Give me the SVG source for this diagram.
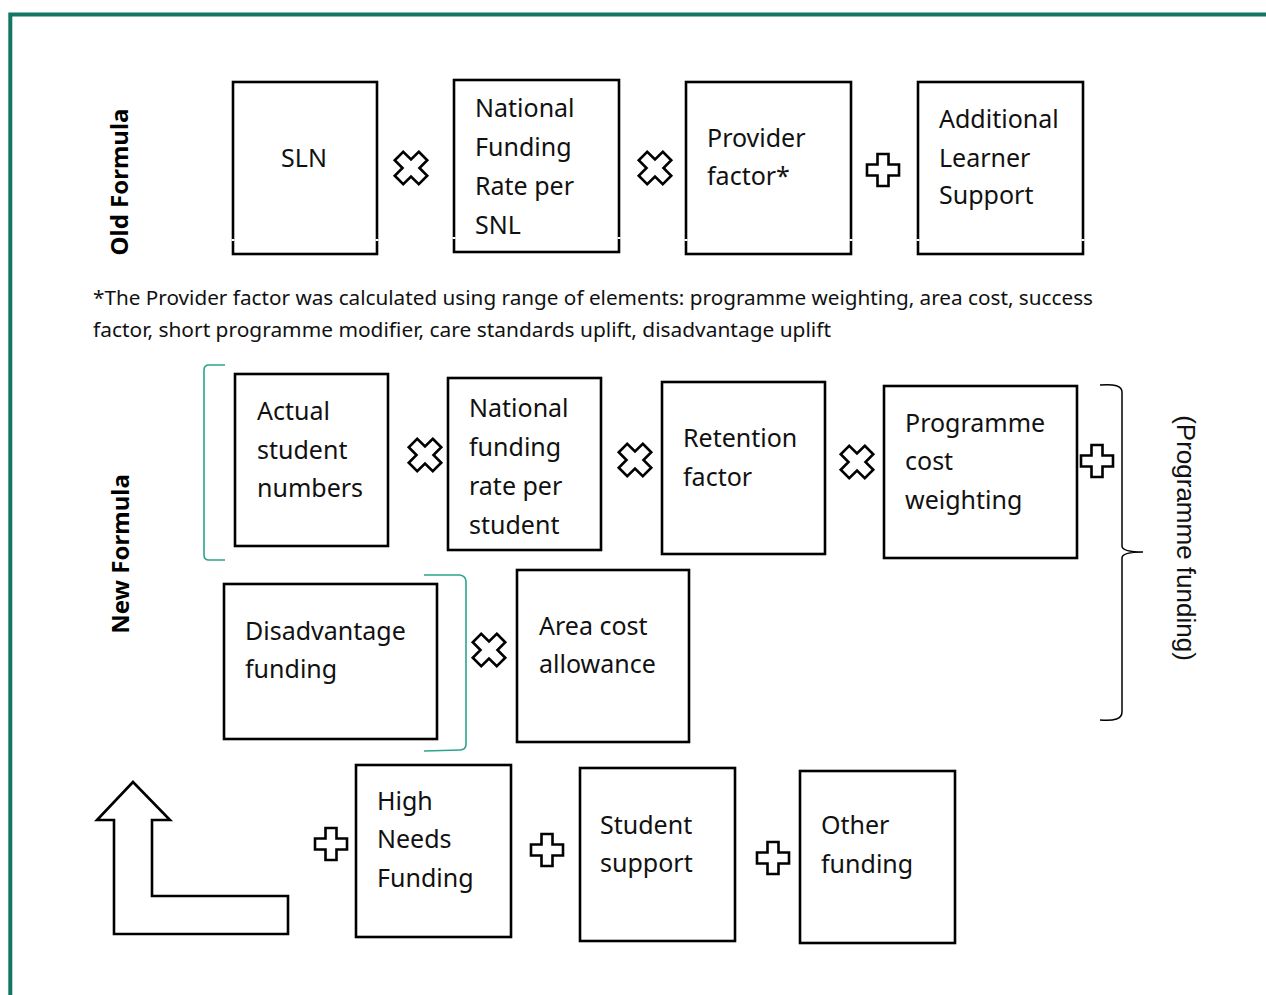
<svg xmlns="http://www.w3.org/2000/svg" xmlns:xlink="http://www.w3.org/1999/xlink" width="1266" height="995" viewBox="0 0 1266 995">
<style>
.box{fill:#fff;stroke:#000;stroke-width:2.6}
.gap{stroke:#fff;stroke-width:3}
.lbl{font-family:"Noto Sans","Open Sans",sans-serif;font-size:25px;fill:#111}
.side{font-family:"Noto Sans","Open Sans",sans-serif;font-size:24px;font-weight:bold;fill:#000}
.note{font-family:"Noto Sans","Open Sans",sans-serif;font-size:19px;fill:#111}
.sym{fill:#fff;stroke:#000;stroke-width:2.6;stroke-linejoin:miter}
.teal{fill:none;stroke:#2aa58a;stroke-width:1.6}
.brace{fill:none;stroke:#000;stroke-width:1.5}
</style>
<defs>
<path id="plus" class="sym" d="M-5.5,-16 H5.5 V-5.5 H16 V5.5 H5.5 V16 H-5.5 V5.5 H-16 V-5.5 H-5.5 Z"/>
<path id="times" class="sym" transform="rotate(45)" d="M-6,-17 H6 V-6 H17 V6 H6 V17 H-6 V6 H-17 V-6 H-6 Z"/>
</defs>
<rect width="1266" height="995" fill="#fff"/>
<g id="frame" fill="none" stroke="#137563" stroke-width="4">
<path d="M10.3,995 V14.5 H1266"/>
</g>
<g id="old-formula-label"><text class="side" transform="translate(128,182) rotate(-90)" text-anchor="middle">Old Formula</text></g>
<g id="new-formula-label"><text class="side" transform="translate(129,554) rotate(-90)" text-anchor="middle">New Formula</text></g>

<g id="sln">
<rect class="box" x="233" y="82" width="144" height="172"/>
<path class="gap" d="M233,239 v2 M377,239 v2"/>
<text class="lbl" x="304" y="167" text-anchor="middle">SLN</text>
</g>
<g id="nfr-snl">
<rect class="box" x="454" y="80" width="165" height="172"/>
<path class="gap" d="M454,237 v2 M619,237 v2"/>
<text class="lbl" x="475" y="117">National</text>
<text class="lbl" x="475" y="156">Funding</text>
<text class="lbl" x="475" y="195">Rate per</text>
<text class="lbl" x="475" y="234">SNL</text>
</g>
<g id="provider-factor">
<rect class="box" x="686" y="82" width="165" height="172"/>
<path class="gap" d="M686,239 v2 M851,239 v2"/>
<text class="lbl" x="707" y="147">Provider</text>
<text class="lbl" x="707" y="185">factor*</text>
</g>
<g id="als">
<rect class="box" x="918" y="82" width="165" height="172"/>
<path class="gap" d="M918,239 v2 M1083,239 v2"/>
<text class="lbl" x="939" y="128">Additional</text>
<text class="lbl" x="939" y="167">Learner</text>
<text class="lbl" x="939" y="204">Support</text>
</g>

<g id="footnote">
<text class="note" x="93" y="305" textLength="1000" lengthAdjust="spacingAndGlyphs">*The Provider factor was calculated using range of elements: programme weighting, area cost, success</text>
<text class="note" x="93" y="337" textLength="738" lengthAdjust="spacingAndGlyphs">factor, short programme modifier, care standards uplift, disadvantage uplift</text>
</g>

<g id="actual-students">
<rect class="box" x="235" y="374" width="153" height="172"/>
<text class="lbl" x="257" y="420">Actual</text>
<text class="lbl" x="257" y="459">student</text>
<text class="lbl" x="257" y="497">numbers</text>
</g>
<g id="nfr-student">
<rect class="box" x="448" y="378" width="153" height="172"/>
<text class="lbl" x="469" y="417">National</text>
<text class="lbl" x="469" y="456">funding</text>
<text class="lbl" x="469" y="495">rate per</text>
<text class="lbl" x="469" y="534">student</text>
</g>
<g id="retention">
<rect class="box" x="662" y="382" width="163" height="172"/>
<text class="lbl" x="683" y="447">Retention</text>
<text class="lbl" x="683" y="486">factor</text>
</g>
<g id="programme-cost">
<rect class="box" x="884" y="386" width="193" height="172"/>
<text class="lbl" x="905" y="432">Programme</text>
<text class="lbl" x="905" y="470">cost</text>
<text class="lbl" x="905" y="509">weighting</text>
</g>
<g id="disadvantage">
<rect class="box" x="224" y="584" width="213" height="155"/>
<text class="lbl" x="245" y="640">Disadvantage</text>
<text class="lbl" x="245" y="678">funding</text>
</g>
<g id="area-cost">
<rect class="box" x="517" y="570" width="172" height="172"/>
<text class="lbl" x="539" y="635">Area cost</text>
<text class="lbl" x="539" y="673">allowance</text>
</g>
<g id="high-needs">
<rect class="box" x="356" y="765" width="155" height="172"/>
<text class="lbl" x="377" y="810">High</text>
<text class="lbl" x="377" y="848">Needs</text>
<text class="lbl" x="377" y="887">Funding</text>
</g>
<g id="student-support">
<rect class="box" x="580" y="768" width="155" height="173"/>
<text class="lbl" x="600" y="834">Student</text>
<text class="lbl" x="600" y="872">support</text>
</g>
<g id="other-funding">
<rect class="box" x="800" y="771" width="155" height="172"/>
<text class="lbl" x="821" y="834">Other</text>
<text class="lbl" x="821" y="873">funding</text>
</g>

<g id="programme-funding-label"><text class="lbl" style="font-family:'Liberation Sans',Arial,sans-serif;font-size:26px" transform="translate(1177,538) rotate(90)" text-anchor="middle">(Programme funding)</text></g>

<g id="connectors">
<use xlink:href="#times" x="411" y="168"/>
<use xlink:href="#times" x="655" y="168"/>
<use xlink:href="#plus" x="883" y="170"/>
<use xlink:href="#times" x="425" y="455"/>
<use xlink:href="#times" x="635" y="460"/>
<use xlink:href="#times" x="857" y="462"/>
<use xlink:href="#plus" x="1097" y="461"/>
<use xlink:href="#times" x="489" y="650"/>
<use xlink:href="#plus" x="331" y="844"/>
<use xlink:href="#plus" x="547" y="850"/>
<use xlink:href="#plus" x="773" y="858"/>
<path class="teal" d="M225,365 L209,365 Q204,365 204,370 L204,555 Q204,560 209,560 L225,560"/>
<path class="teal" d="M424,575 L460,575 Q466,576 466,582 L466,744 Q466,750 460,750 L424,751"/>
<path class="brace" d="M1100,385 Q1122,383 1122,392 L1122,546 Q1122,552 1143,552 Q1122,552 1122,558 L1122,712 Q1122,722 1100,720"/>
<path class="sym" stroke-width="3" d="M133,782 L170,820 L152,820 L152,896 L288,896 L288,934 L114,934 L114,820 L97,820 Z"/>
</g>
</svg>
